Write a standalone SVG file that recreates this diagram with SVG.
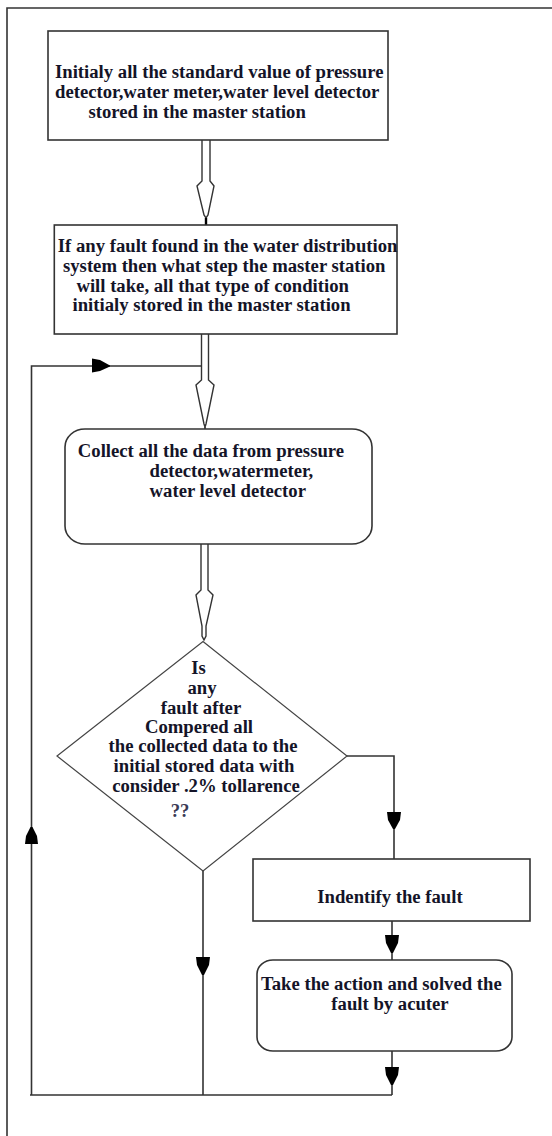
<svg xmlns="http://www.w3.org/2000/svg" width="552" height="1136" viewBox="0 0 552 1136">
<style>
.box{fill:#fff;stroke:#333;stroke-width:1.6}
.ln{fill:none;stroke:#333;stroke-width:1.6}
.dbl{fill:#fff;stroke:#333;stroke-width:1.4;stroke-linejoin:miter}
.ah{fill:#000;stroke:none}
text{font-family:"Liberation Serif","Times New Roman",serif;font-weight:bold;font-size:18.7px;fill:#141428}
.c{text-anchor:middle}
</style>
<rect width="552" height="1136" fill="#fff"/>
<path class="ln" d="M7,1136 V8 H552"/>

<g id="connectors">
  <!-- box1 -> box2 hollow arrow -->
  <path class="dbl" d="M202,140 V181 L197,186 L204,215 L206,218 L208,215 L214,186 L210,181 V140"/>
  <line x1="206" y1="218" x2="206" y2="225" stroke="#000" stroke-width="2.4"/>
  <!-- box2 -> box3 hollow arrow -->
  <path class="dbl" d="M201.5,334 V380 L196,385 L204,424 L205,427 L206,424 L214,385 L208.5,380 V334"/>
  <line x1="205" y1="427" x2="205" y2="429" stroke="#333" stroke-width="1.5"/>
  <!-- box3 -> diamond hollow arrow -->
  <path class="dbl" d="M201,544 V590 L196,595 L202,626 V636 L204,640 L206,636 V626 L213,595 L208,590 V544"/>
  <!-- diamond right branch -> box4 -->
  <path class="ln" d="M347,756 H394 V859"/>
  <path class="ah" d="M387,812 H401 L400,820 L395,829 H393 L388,820 Z"/>
  <!-- box4 -> box5 -->
  <line class="ln" x1="392" y1="921" x2="392" y2="960"/>
  <path class="ah" d="M385,935 H399 L398,943 L393,953 H391 L386,943 Z"/>
  <!-- box5 -> bottom -->
  <line class="ln" x1="392" y1="1051" x2="392" y2="1095"/>
  <path class="ah" d="M385,1067 H399 L398,1075 L393,1085 H391 L386,1075 Z"/>
  <!-- diamond bottom -> bottom line -->
  <line class="ln" x1="203" y1="871" x2="203" y2="1095"/>
  <path class="ah" d="M196,957 H210 L209,965 L204,975 H202 L197,965 Z"/>
  <!-- loop back -->
  <path class="ln" d="M392,1095 H30 M31.5,1095 V366 H202"/>
  <path class="ah" d="M25,844 H38 L37,836 L32.5,827 H30.5 L26,836 Z"/>
  <path class="ah" d="M92,358.5 V372.5 L100,371 L110,366.5 V365.5 L100,360 Z"/>
</g>

<g id="n1">
  <rect class="box" x="48" y="31" width="340" height="109"/>
  <text x="55" y="78">Initialy all the standard value of pressure</text>
  <text x="55" y="98">detector,water meter,water level detector</text>
  <text x="88.5" y="118">stored  in the master station</text>
</g>

<g id="n2">
  <rect class="box" x="54.3" y="225" width="342.7" height="109"/>
  <text x="57.8" y="252">If any fault found in the water distribution</text>
  <text x="63" y="272">system then what step the master station</text>
  <text x="76.4" y="292">will take, all that type of condition</text>
  <text x="72.5" y="311">initialy  stored in the master station</text>
</g>

<g id="n3">
  <rect class="box" x="65" y="429" width="307" height="115" rx="20" ry="18"/>
  <text x="77.8" y="457">Collect all the data from pressure</text>
  <text x="149.6" y="477">detector,watermeter,</text>
  <text x="149.6" y="497">water level detector</text>
</g>

<g id="n4">
  <path d="M203,641.5 L347,756 L203,871 L57,756 Z" fill="#fff" stroke="#444" stroke-width="1.2"/>
  <text class="c" x="198.6" y="674">Is</text>
  <text class="c" x="202" y="694">any</text>
  <text class="c" x="201" y="714">fault after</text>
  <text class="c" x="199" y="733">Compered all</text>
  <text class="c" x="203" y="752">the collected data to the</text>
  <text class="c" x="204" y="772">initial stored data with</text>
  <text class="c" x="206" y="792">consider .2% tollarence</text>
  <text class="c" x="180" y="817" style="fill:#3a3a55">??</text>
</g>

<g id="n5">
  <rect class="box" x="253" y="859" width="277" height="62"/>
  <text class="c" x="390" y="903">Indentify the fault</text>
</g>

<g id="n6">
  <rect class="box" x="257" y="960" width="255" height="91" rx="16" ry="14"/>
  <text x="261" y="990">Take the action and solved the</text>
  <text class="c" x="390" y="1010">fault by acuter</text>
</g>
</svg>
